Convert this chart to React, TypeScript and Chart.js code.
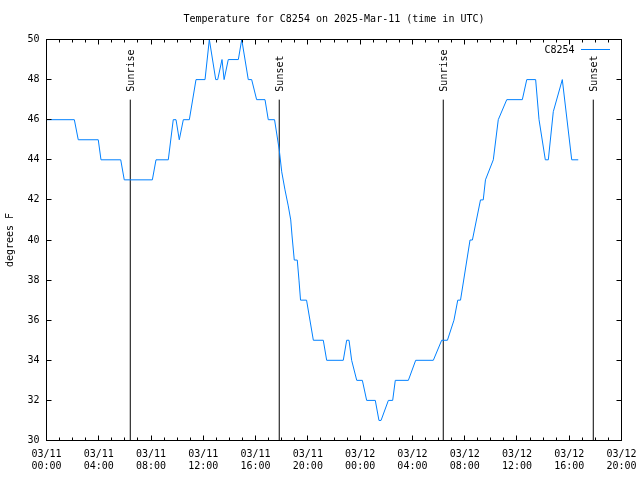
import React, { useEffect, useRef } from "react";
import { Chart, registerables } from "chart.js";

Chart.register(...registerables);

// ---- data (hours since 03/11 00:00 UTC, temperature in °F) ----
const HOURS = [
  0.0, 2.13, 2.43, 3.96, 4.17, 5.68, 5.95, 8.1, 8.38, 9.32, 9.7, 9.91, 10.16, 10.47, 10.93,
  11.44, 12.13, 12.46, 12.95, 13.1, 13.43, 13.59, 13.91, 14.68, 14.94, 15.44, 15.7, 16.08,
  16.72, 16.97, 17.45, 17.81, 18.0, 18.25, 18.5, 18.69, 18.79, 18.96, 19.19, 19.32, 19.44,
  19.9, 20.42, 21.18, 21.44, 22.71, 22.97, 23.15, 23.35, 23.74, 24.17, 24.5, 25.16, 25.44,
  25.6, 26.16, 26.49, 26.69, 27.69, 28.25, 29.6, 30.24, 30.68, 31.18, 31.47, 31.68, 32.41,
  32.59, 33.21, 33.42, 33.59, 34.19, 34.57, 35.22, 36.41, 36.75, 37.43, 37.69, 38.17, 38.4,
  38.78, 39.47, 40.19, 40.69,
];
const TEMPS = [
  46, 46, 45, 45, 44, 44, 43, 43, 44, 44, 46, 46, 45, 46, 46,
  48, 48, 50, 48, 48, 49, 48, 49, 49, 50, 48, 48, 47,
  47, 46, 46, 44.5, 43.4, 42.5, 41.7, 41, 40.2, 39, 39, 38, 37,
  37, 35, 35, 34, 34, 35, 35, 34, 33, 33, 32, 32, 31,
  31, 32, 32, 33, 33, 34, 34, 35, 35, 36, 37, 37, 40,
  40, 42, 42, 43, 44, 46, 47, 47, 48, 48, 46, 44, 44,
  46.4, 48, 44, 44,
];

const SUN_EVENT_LABELS = ["Sunrise", "Sunset", "Sunrise", "Sunset"];
const SUN_EVENT_HOURS = [6.41, 17.81, 30.36, 41.84];
const SUN_LINE_TOP = 47;

const X_TICK_LABELS = [
  ["03/11", "00:00"], ["03/11", "04:00"], ["03/11", "08:00"], ["03/11", "12:00"],
  ["03/11", "16:00"], ["03/11", "20:00"], ["03/12", "00:00"], ["03/12", "04:00"],
  ["03/12", "08:00"], ["03/12", "12:00"], ["03/12", "16:00"], ["03/12", "20:00"],
];
const X_MIN = 0;
const X_MAX = 44;
const X_STEP = 4;
const Y_MIN = 30;
const Y_MAX = 50;
const Y_STEP = 2;

const TITLE = "Temperature for C8254 on 2025-Mar-11 (time in UTC)";
const SERIES_NAME = "C8254";
const Y_TITLE = "degrees F";

const FONT = "'DejaVu Sans Mono', 'Liberation Mono', monospace";
const LINE_COLOR = "rgb(0,128,255)";

const overlayPlugin = {
  id: "gnuplotOverlay",
  afterDraw(chart: any) {
    const ctx = chart.ctx as CanvasRenderingContext2D;
    const ca = chart.chartArea;
    const xs = chart.scales.x;
    const ys = chart.scales.y;
    ctx.save();
    ctx.strokeStyle = "#000";
    ctx.lineWidth = 1;
    // border box
    ctx.strokeRect(ca.left, ca.top, ca.right - ca.left, ca.bottom - ca.top);
    // x ticks (major every 4h, minor every 1h), bottom and top
    ctx.beginPath();
    for (let h = X_MIN; h <= X_MAX; h += 1) {
      const px = Math.round(xs.getPixelForValue(h) - 0.5) + 0.5;
      const len = h % X_STEP === 0 ? 5 : 3;
      ctx.moveTo(px, ca.bottom);
      ctx.lineTo(px, ca.bottom - len);
      ctx.moveTo(px, ca.top);
      ctx.lineTo(px, ca.top + len);
    }
    // y ticks left and right
    for (let v = Y_MIN; v <= Y_MAX; v += Y_STEP) {
      const py = Math.round(ys.getPixelForValue(v) - 0.5) + 0.5;
      ctx.moveTo(ca.left, py);
      ctx.lineTo(ca.left + 5, py);
      ctx.moveTo(ca.right, py);
      ctx.lineTo(ca.right - 5, py);
    }
    ctx.stroke();

    ctx.fillStyle = "#000";
    ctx.font = "10px " + FONT;
    // sun event labels
    SUN_EVENT_LABELS.forEach((lab, i) => {
      const px = xs.getPixelForValue(SUN_EVENT_HOURS[i]);
      const py = ys.getPixelForValue(SUN_LINE_TOP);
      ctx.save();
      ctx.translate(px + 1.5, py - 8);
      ctx.rotate(-Math.PI / 2);
      ctx.textAlign = "left";
      ctx.textBaseline = "middle";
      ctx.fillText(lab, 0, 0);
      ctx.restore();
    });
    // title
    ctx.textAlign = "center";
    ctx.textBaseline = "middle";
    ctx.fillText(TITLE, (ca.left + ca.right) / 2, 19);
    // legend
    ctx.textAlign = "right";
    ctx.fillText(SERIES_NAME, 574.5, 50);
    ctx.strokeStyle = LINE_COLOR;
    ctx.beginPath();
    ctx.moveTo(581, 49.5);
    ctx.lineTo(610, 49.5);
    ctx.stroke();
    ctx.restore();
  },
};

export default function App() {
  const ref = useRef<HTMLCanvasElement | null>(null);
  useEffect(() => {
    if (!ref.current) return;
    const tempData = HOURS.map((h, i) => ({ x: h, y: TEMPS[i] }));
    const sunSets = SUN_EVENT_HOURS.map((h, i) => ({
      label: SUN_EVENT_LABELS[i],
      data: [
        { x: h, y: Y_MIN },
        { x: h, y: SUN_LINE_TOP },
      ],
      borderColor: "#000",
      borderWidth: 1,
      pointRadius: 0,
      order: 2,
    }));
    const chart = new Chart(ref.current, {
      type: "line",
      data: {
        datasets: [
          {
            label: SERIES_NAME,
            data: tempData,
            borderColor: LINE_COLOR,
            borderWidth: 1,
            pointRadius: 0,
            tension: 0,
            order: 1,
          },
          ...sunSets,
        ],
      },
      options: {
        animation: false,
        responsive: true,
        maintainAspectRatio: false,
        parsing: false as any,
        layout: { padding: { top: 39.5, right: 18.5, bottom: 0, left: 0 } },
        plugins: {
          legend: { display: false },
          title: { display: false },
          tooltip: { enabled: false },
        },
        scales: {
          x: {
            type: "linear",
            min: X_MIN,
            max: X_MAX,
            grid: { display: false, drawTicks: false },
            border: { display: false },
            afterFit: (s: any) => {
              s.height = 39.5;
              s.paddingLeft = 0;
              s.paddingRight = 0;
            },
            ticks: {
              stepSize: X_STEP,
              autoSkip: false,
              maxRotation: 0,
              minRotation: 0,
              padding: 8,
              color: "#000",
              font: { family: FONT, size: 10 },
              callback: (v: any) => X_TICK_LABELS[Math.round(Number(v) / X_STEP)] ?? "",
            },
          },
          y: {
            type: "linear",
            min: Y_MIN,
            max: Y_MAX,
            grid: { display: false, drawTicks: false },
            border: { display: false },
            afterFit: (s: any) => {
              s.width = 46.5;
              s.paddingTop = 0;
              s.paddingBottom = 0;
            },
            title: {
              display: true,
              text: Y_TITLE,
              color: "#000",
              font: { family: FONT, size: 10 },
              padding: { top: 4, bottom: 0 },
            },
            ticks: {
              stepSize: Y_STEP,
              padding: 7,
              color: "#000",
              font: { family: FONT, size: 10 },
            },
          },
        },
      },
      plugins: [overlayPlugin],
    });
    return () => chart.destroy();
  }, []);
  return (
    <div style={{ position: "fixed", left: 0, top: 0, width: 640, height: 480, background: "#fff" }}>
      <canvas ref={ref} />
    </div>
  );
}
